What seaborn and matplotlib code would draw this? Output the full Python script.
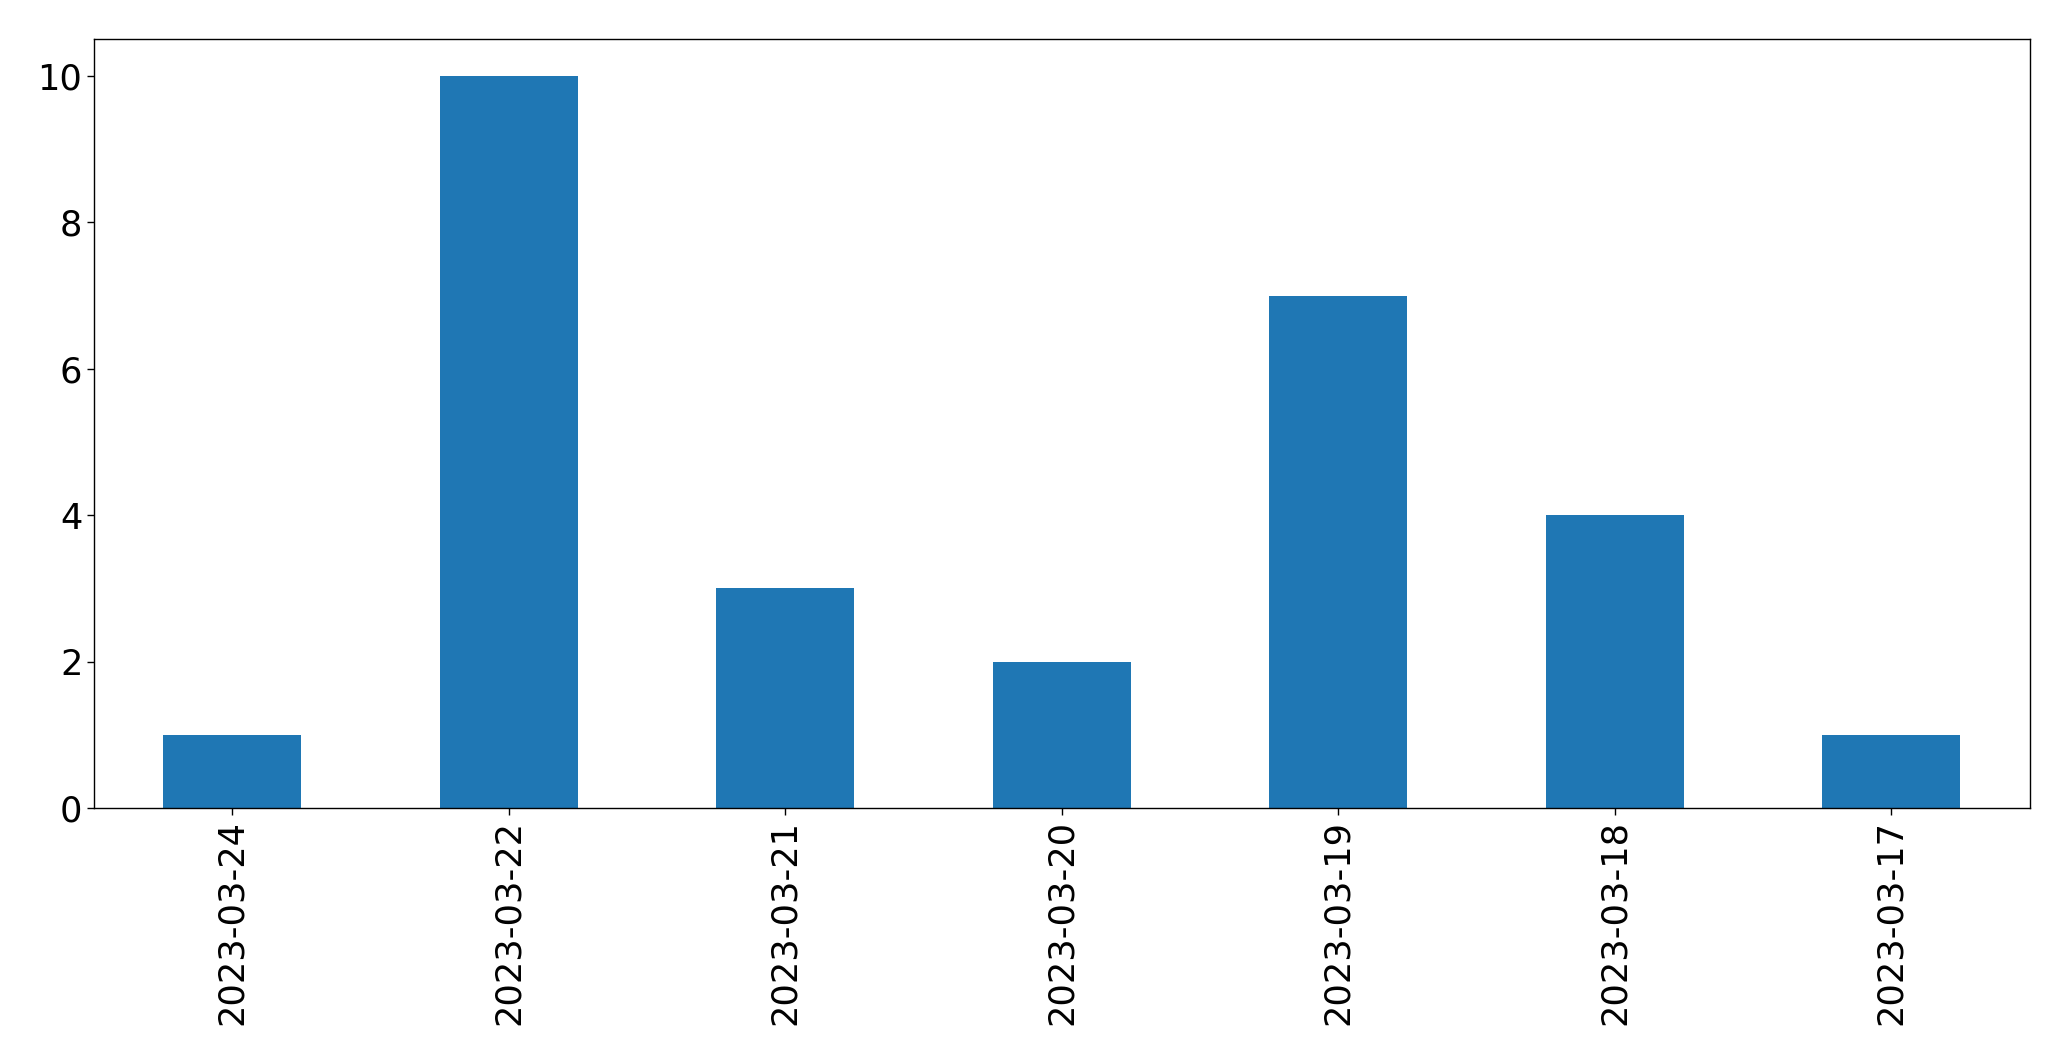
import matplotlib
matplotlib.use("Agg")
import matplotlib.pyplot as plt
import seaborn as sns
import pandas as pd

dates = ["2023-03-24", "2023-03-22", "2023-03-21", "2023-03-20",
         "2023-03-19", "2023-03-18", "2023-03-17"]
counts = [1, 10, 3, 2, 7, 4, 1]

df = pd.DataFrame({"date": dates, "count": counts})

sns.set_style("ticks", {"axes.edgecolor": "black", "text.color": "black",
                        "xtick.color": "black", "ytick.color": "black",
                        "axes.labelcolor": "black"})
plt.rcParams["font.family"] = ["DejaVu Sans"]

fig, ax = plt.subplots(figsize=(20.71, 10.61), dpi=100)
fig.subplots_adjust(left=0.0454, right=0.980, top=0.9628, bottom=0.2385)

sns.barplot(data=df, x="date", y="count", order=dates, color="#1f77b4",
            saturation=1, width=0.5, linewidth=0, ax=ax)

ax.set_xlim(-0.5, len(dates) - 0.5)
ax.set_ylim(0, 10.5)
ax.set_xlabel("")
ax.set_ylabel("")
ax.tick_params(axis="both", labelsize=25.3, length=4.9, width=1.0,
               colors="black")
ax.tick_params(axis="x", rotation=90)
for s in ax.spines.values():
    s.set_visible(True)
    s.set_linewidth(1.0)
    s.set_edgecolor("black")

fig.savefig("out.png", dpi=100)
